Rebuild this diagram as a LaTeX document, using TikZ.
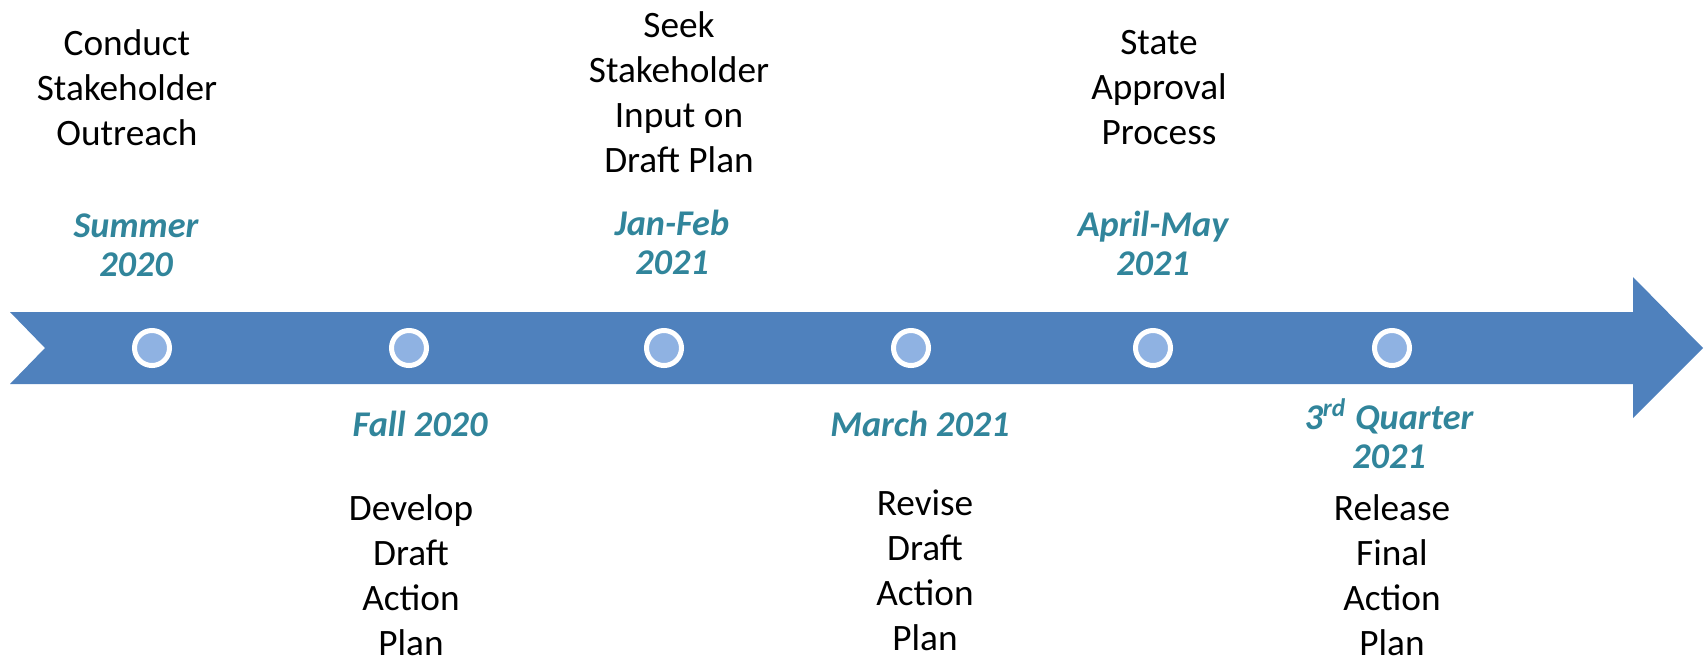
\documentclass[tikz,border=0pt]{standalone}
\usepackage{fontspec}
\setmainfont{Carlito}
\definecolor{shaftblue}{RGB}{79,129,189}
\definecolor{dotblue}{RGB}{143,178,226}
\definecolor{dateteal}{RGB}{49,133,155}
\begin{document}
\begin{tikzpicture}[x=0.01cm,y=-0.01cm,
    dot/.style={circle,fill=dotblue,draw=white,line width=0.05cm,minimum size=0.35cm,inner sep=0},
    task/.style={align=center,font=\fontsize{10.6}{12.8}\selectfont,inner sep=0},
    when/.style={align=center,text=dateteal,font=\fontsize{10.3}{11.1}\selectfont\bfseries\itshape,inner sep=0}]
    \useasboundingbox (0,0) rectangle (1705,660);
    % timeline arrow
    \fill[shaftblue] (10,312) -- (1633,312) -- (1633,277) -- (1703,348) -- (1633,418) -- (1633,384) -- (10,384) -- (45,348) -- cycle;
    \node[dot] (m1) at (152,348) {};
    \node[dot] (m2) at (409,348) {};
    \node[dot] (m3) at (664,348) {};
    \node[dot] (m4) at (911,348) {};
    \node[dot] (m5) at (1153,348) {};
    \node[dot] (m6) at (1392,348) {};
    % above the arrow
    \node[when] (d1) at (136,245) {Summer\\2020};
    \node[when] (d3) at (672,242) {Jan-Feb\\2021};
    \node[when] (d5) at (1153,243) {April-May\\2021};
    \node[task] (t1) at (127,88) {Conduct\\Stakeholder\\Outreach};
    \node[task] (t3) at (679,92) {Seek\\Stakeholder\\Input on\\Draft Plan};
    \node[task] (t5) at (1159,88) {State\\Approval\\Process};
    % below the arrow
    \node[when] (d2) at (420,424) {Fall 2020};
    \node[when] (d4) at (920,424) {March 2021};
    \node[when] (d6) at (1389,434) {3\textsuperscript{rd} Quarter\\2021};
    \node[task] (t2) at (411,575) {Develop\\Draft\\Action\\Plan};
    \node[task] (t4) at (925,570) {Revise\\Draft\\Action\\Plan};
    \node[task] (t6) at (1392,575) {Release\\Final\\Action\\Plan};
\end{tikzpicture}
\end{document}
